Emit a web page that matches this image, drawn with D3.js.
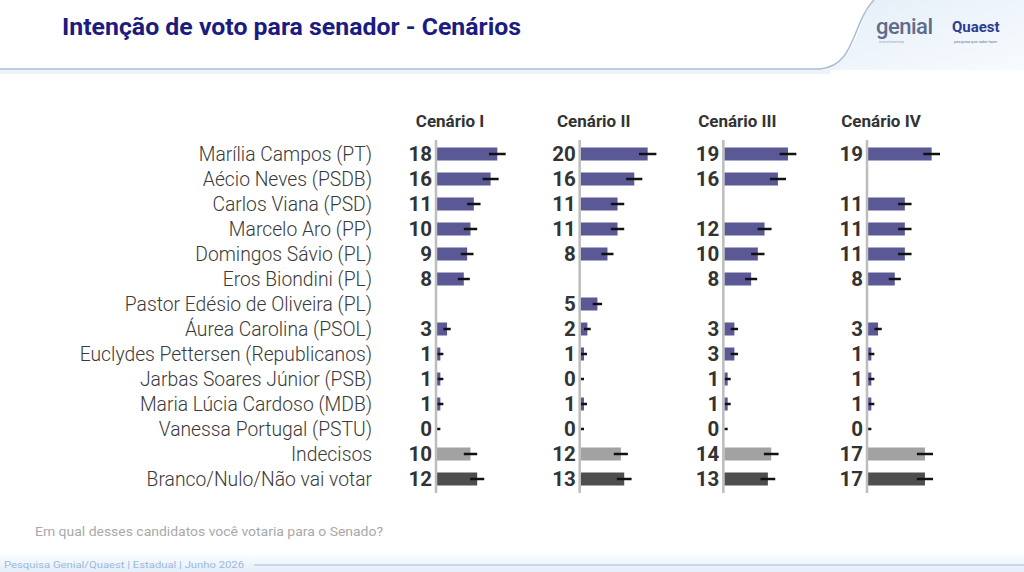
<!DOCTYPE html>
<html>
<head>
<meta charset="utf-8">
<script src="https://cdn.jsdelivr.net/npm/d3@7"></script>
<style>
  body { margin: 0; background: #fff; }
  svg { display: block; font-family: Roboto, "Noto Sans", sans-serif; }
</style>
</head>
<body>
<svg width="1024" height="572"></svg>
<script>
(function (d3) {
  'use strict';

  // candidates (rows) and scenarios (panels)
  const candidates = [
    'Marília Campos (PT)', 'Aécio Neves (PSDB)', 'Carlos Viana (PSD)',
    'Marcelo Aro (PP)', 'Domingos Sávio (PL)', 'Eros Biondini (PL)',
    'Pastor Edésio de Oliveira (PL)', 'Áurea Carolina (PSOL)',
    'Euclydes Pettersen (Republicanos)', 'Jarbas Soares Júnior (PSB)',
    'Maria Lúcia Cardoso (MDB)', 'Vanessa Portugal (PSTU)',
    'Indecisos', 'Branco/Nulo/Não vai votar'
  ];
  const scenarios = ['Cenário I', 'Cenário II', 'Cenário III', 'Cenário IV'];

  // null = candidate not in that scenario
  const cenario1 = [18, 16, 11, 10, 9, 8, null, 3, 1, 1, 1, 0, 10, 12];
  const cenario2 = [20, 16, 11, 11, 8, null, 5, 2, 1, 0, 1, 0, 12, 13];
  const cenario3 = [19, 16, null, 12, 10, 8, null, 3, 3, 1, 1, 0, 14, 13];
  const cenario4 = [19, null, 11, 11, 11, 8, null, 3, 1, 1, 1, 0, 17, 17];

  // margin of error (+/- points), read from the black whiskers
  const erro1 = [2.5, 2.4, 2.0, 2.0, 1.9, 1.8, null, 1.1, 0.9, 0.9, 0.9, 1.0, 2.0, 2.1];
  const erro2 = [2.6, 2.4, 2.0, 2.0, 1.8, null, 1.4, 1.0, 0.9, 1.0, 0.9, 1.0, 2.1, 2.2];
  const erro3 = [2.5, 2.4, null, 2.1, 2.0, 1.8, null, 1.1, 1.1, 0.9, 0.9, 1.0, 2.2, 2.2];
  const erro4 = [2.5, null, 2.0, 2.0, 2.0, 1.8, null, 1.1, 0.9, 0.9, 0.9, 1.0, 2.4, 2.4];

  const valores = [cenario1, cenario2, cenario3, cenario4];
  const erros = [erro1, erro2, erro3, erro4];

  const svg = d3.select('svg');
  const width = +svg.attr('width');
  const height = +svg.attr('height');

  const defs = svg.append('defs');
  const grad = defs.append('linearGradient').attr('id', 'hdr')
    .attr('x1', 0).attr('y1', 0).attr('x2', 1).attr('y2', 1);
  grad.append('stop').attr('offset', '0%').attr('stop-color', '#e4eef8');
  grad.append('stop').attr('offset', '100%').attr('stop-color', '#f8fbfe');

  const foot = defs.append('linearGradient').attr('id', 'foot')
    .attr('x1', 0).attr('y1', 0).attr('x2', 0).attr('y2', 1);
  foot.append('stop').attr('offset', '0%').attr('stop-color', '#ffffff');
  foot.append('stop').attr('offset', '100%').attr('stop-color', '#e3eef9');

  // header band
  svg.append('rect')
    .attr('x', 820).attr('y', 0).attr('width', 204).attr('height', 70)
    .attr('fill', 'url(#hdr)');
  svg.append('path')
    .attr('d', 'M0,0 H872 C858,20 858,60 826,68 H0 Z')
    .attr('fill', '#ffffff');
  svg.append('path')
    .attr('d', 'M0,69 H820 C856,66 852,22 874,0')
    .attr('fill', 'none')
    .attr('stroke', '#a9bdd2')
    .attr('stroke-width', 1.5);
  svg.append('rect')
    .attr('x', 0).attr('y', 70).attr('width', 830).attr('height', 4)
    .attr('fill', '#eef3f8');

  svg.append('text')
    .attr('x', 62).attr('y', 35)
    .attr('font-size', 23)
    .attr('font-weight', 700)
    .attr('fill', '#1c1c80')
    .attr('textLength', 459)
    .attr('lengthAdjust', 'spacingAndGlyphs')
    .text('Intenção de voto para senador - Cenários');

  // logos
  svg.append('text')
    .attr('x', 876).attr('y', 34)
    .attr('font-size', 22)
    .attr('font-weight', 500)
    .attr('fill', '#5f6d8c')
    .attr('letter-spacing', -0.5)
    .text('genial');
  svg.append('text')
    .attr('x', 879).attr('y', 43)
    .attr('font-size', 4)
    .attr('fill', '#9aa6bb')
    .text('investimentos');
  svg.append('text')
    .attr('x', 952).attr('y', 32)
    .attr('font-size', 15)
    .attr('font-weight', 700)
    .attr('fill', '#2e3d8f')
    .text('Quaest');
  svg.append('text')
    .attr('x', 954).attr('y', 43)
    .attr('font-size', 4)
    .attr('fill', '#6d7898')
    .text('pesquisa que sabe fazer');

  // scales
  const panelX = d3.scalePoint().domain(scenarios).range([436, 867]);
  const y = d3.scalePoint().domain(candidates).range([154, 479]);
  const x = d3.scaleLinear().domain([0, 20]).range([0, 67]);
  const barH = 13;

  const barColor = (i) => i === 12 ? '#a2a2a2' : i === 13 ? '#4e4e4e' : '#5b5896';

  // candidate labels
  svg.append('g').selectAll('text')
    .data(candidates)
    .join('text')
      .attr('x', 372)
      .attr('y', d => y(d))
      .attr('dy', '0.35em')
      .attr('text-anchor', 'end')
      .attr('font-size', 19.3)
      .attr('font-weight', 300)
      .attr('fill', '#3a3a3a')
      .text(d => d);

  scenarios.forEach((s, si) => {
    const x0 = panelX(s);
    const g = svg.append('g').attr('transform', `translate(${x0}, 0)`);

    g.append('text')
      .attr('x', 14).attr('y', 127)
      .attr('text-anchor', 'middle')
      .attr('font-size', 17)
      .attr('font-weight', 700)
      .attr('fill', '#333')
      .text(s);

    const rows = candidates.map((c, i) => ({
      c, i, v: valores[si][i], e: erros[si][i]
    })).filter(d => d.v !== null);

    g.selectAll('rect.bar')
      .data(rows)
      .join('rect')
        .attr('class', 'bar')
        .attr('x', 1)
        .attr('y', d => y(d.c) - barH / 2)
        .attr('width', d => x(d.v))
        .attr('height', barH)
        .attr('fill', d => barColor(d.i));

    g.selectAll('line.err')
      .data(rows)
      .join('line')
        .attr('class', 'err')
        .attr('x1', d => 1 + x(Math.max(0, d.v - d.e)))
        .attr('x2', d => 1 + x(d.v + d.e))
        .attr('y1', d => y(d.c))
        .attr('y2', d => y(d.c))
        .attr('stroke', '#111')
        .attr('stroke-width', 2.5);

    g.append('line')
      .attr('x1', 0).attr('x2', 0)
      .attr('y1', 140).attr('y2', 493)
      .attr('stroke', '#bdbdbd')
      .attr('stroke-width', 2.5);

    g.selectAll('text.val')
      .data(rows)
      .join('text')
        .attr('class', 'val')
        .attr('x', -4)
        .attr('y', d => y(d.c))
        .attr('dy', '0.36em')
        .attr('text-anchor', 'end')
        .attr('font-size', 20.5)
        .attr('font-weight', 700)
        .attr('fill', '#333')
        .text(d => d.v);
  });

  // question
  svg.append('text')
    .attr('x', 35).attr('y', 536)
    .attr('font-size', 13.5)
    .attr('fill', '#a9a9a9')
    .attr('textLength', 348)
    .attr('lengthAdjust', 'spacingAndGlyphs')
    .text('Em qual desses candidatos você votaria para o Senado?');

  // footer strip
  svg.append('rect')
    .attr('x', 0).attr('y', 552).attr('width', width).attr('height', height - 552)
    .attr('fill', 'url(#foot)');
  svg.append('text')
    .attr('x', 4).attr('y', 568)
    .attr('font-size', 9)
    .attr('fill', '#9cb8dc')
    .attr('textLength', 240)
    .attr('lengthAdjust', 'spacingAndGlyphs')
    .text('Pesquisa Genial/Quaest | Estadual | Junho 2026');
  svg.append('line')
    .attr('x1', 254).attr('x2', width)
    .attr('y1', 565).attr('y2', 565)
    .attr('stroke', '#b7cfe8')
    .attr('stroke-width', 1.5);

}(d3));
</script>
</body>
</html>
